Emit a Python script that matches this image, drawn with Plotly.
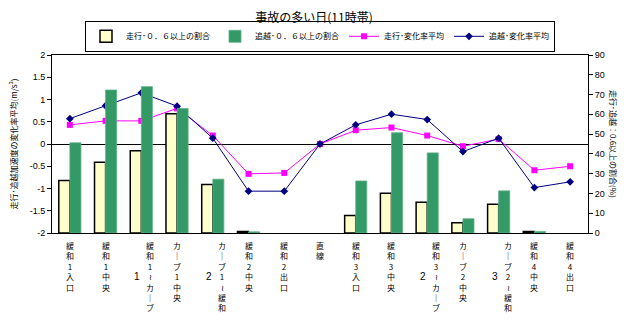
import plotly.graph_objects as go

categories = ["緩和1入口", "緩和1中央", "緩和1〜カーブ1", "カーブ1中央", "カーブ1〜緩和2",
              "緩和2中央", "緩和2出口", "直線", "緩和3入口", "緩和3中央",
              "緩和3〜カーブ2", "カーブ2中央", "カーブ2〜緩和3", "緩和4中央", "緩和4出口"]

run_ratio = [26.5, 35.8, 41.6, 60.3, 24.5, 0.8, None, None, 8.8, 20.1, 15.5, 5.2, 14.5, 0.8, None]
pass_ratio = [45.6, 72.3, 74.0, 63.0, 27.2, 0.6, None, None, 26.3, 50.7, 40.5, 7.2, 21.3, 0.8, None]
run_avg = [0.43, 0.52, 0.52, 0.80, 0.19, -0.67, -0.65, 0.0, 0.31, 0.37, 0.19, -0.05, 0.11, -0.59, -0.50]
pass_avg = [0.57, 0.86, 1.15, 0.85, 0.13, -1.06, -1.06, 0.0, 0.43, 0.67, 0.55, -0.17, 0.13, -0.98, -0.85]

left_ticks = [-2, -1.5, -1, -0.5, 0, 0.5, 1, 1.5, 2]
right_ticks = [0, 10, 20, 30, 40, 50, 60, 70, 80, 90]

JP = "Noto Sans CJK JP"
NUM = "Liberation Sans"

fig = go.Figure()
fig.add_trace(go.Bar(x=categories, y=run_ratio, name="走行･０．６以上の割合", yaxis="y2",
                     marker=dict(color="#FFFFCC", line=dict(color="black", width=1.5))))
fig.add_trace(go.Bar(x=categories, y=pass_ratio, name="追越･０．６以上の割合", yaxis="y2",
                     marker=dict(color="#339966", line=dict(color="#5fb386", width=0.8))))
fig.add_trace(go.Scatter(x=categories, y=run_avg, name="走行･変化率平均", mode="lines+markers",
                         line=dict(color="#FF00FF", width=1),
                         marker=dict(symbol="square", size=6, color="#FF00FF")))
fig.add_trace(go.Scatter(x=categories, y=pass_avg, name="追越･変化率平均", mode="lines+markers",
                         line=dict(color="#000080", width=1),
                         marker=dict(symbol="diamond", size=6, color="#000080")))

# vertical category labels
def vert(s):
    s = s.replace("ー", "｜").replace("〜", "≀")
    return "<br>".join(list(s))

annotations = []
WRAP = 7
LH = 10.4
for i, c in enumerate(categories):
    main = c[:WRAP]
    rest = c[WRAP:]
    xs = 9 if rest else 0
    annotations.append(dict(x=c, xref="x", y=0, yref="paper", yanchor="top", xanchor="center",
                            text=vert(main), showarrow=False, xshift=xs, yshift=-5,
                            font=dict(family=JP, size=8, color="black")))
    if rest:
        annotations.append(dict(x=c, xref="x", y=0, yref="paper", yanchor="top", xanchor="center",
                                text=vert(rest), showarrow=False, xshift=-4,
                                yshift=-5 - LH * (len(main) // 2),
                                font=dict(family=NUM, size=10, color="black")))

annotations.append(dict(x=1.0, xref="paper", xshift=26, y=0.5, yref="paper", textangle=90,
                        text="走行･追越：0.6以上の割合(%)", showarrow=False,
                        xanchor="center", yanchor="middle",
                        font=dict(family=JP, size=8, color="black")))

fig.update_layout(
    width=628, height=331,
    margin=dict(l=52, r=40, t=55, b=98),
    paper_bgcolor="white", plot_bgcolor="white",
    title=dict(text="事故の多い日(11時帯)", x=0.5, xanchor="center", y=0.945, yanchor="middle",
               font=dict(family=JP, size=12, color="black")),
    barmode="group", bargap=0.38, bargroupgap=0,
    legend=dict(orientation="h", x=0.5, xanchor="center", y=1.105, yanchor="middle",
                bordercolor="black", borderwidth=1, bgcolor="white",
                font=dict(family=JP, size=8, color="black"),
                itemwidth=30, tracegroupgap=0, traceorder="normal"),
    xaxis=dict(showticklabels=False, ticks="", showline=True, mirror=True, linecolor="black",
               linewidth=1, showgrid=False, range=[-0.5, 14.5]),
    xaxis2=dict(overlaying="x", anchor="free", position=0.5, range=[-0.5, 14.5],
                tickvals=[i + 0.5 for i in range(len(categories) - 1)],
                ticks="inside", ticklen=4, tickcolor="black", showticklabels=False,
                showline=False, showgrid=False, zeroline=False),
    yaxis=dict(range=[-2, 2], tickvals=left_ticks, ticktext=[f"{v:g}" for v in left_ticks],
               ticks="outside", ticklen=4, tickcolor="black", showline=True, linecolor="black",
               showgrid=False, zeroline=True, zerolinecolor="black", zerolinewidth=1,
               tickfont=dict(family=NUM, size=9, color="black"),
               title=dict(text="走行･追越加速度の変化率平均(m/s³)", standoff=10,
                          font=dict(family=JP, size=8, color="black"))),
    yaxis2=dict(range=[0, 90], tickvals=right_ticks, overlaying="y", side="right",
                ticks="outside", ticklen=4, tickcolor="black", showline=True, linecolor="black",
                showgrid=False, zeroline=False,
                tickfont=dict(family=NUM, size=9, color="black")),
    annotations=annotations,
)

fig.write_html("out.html")
